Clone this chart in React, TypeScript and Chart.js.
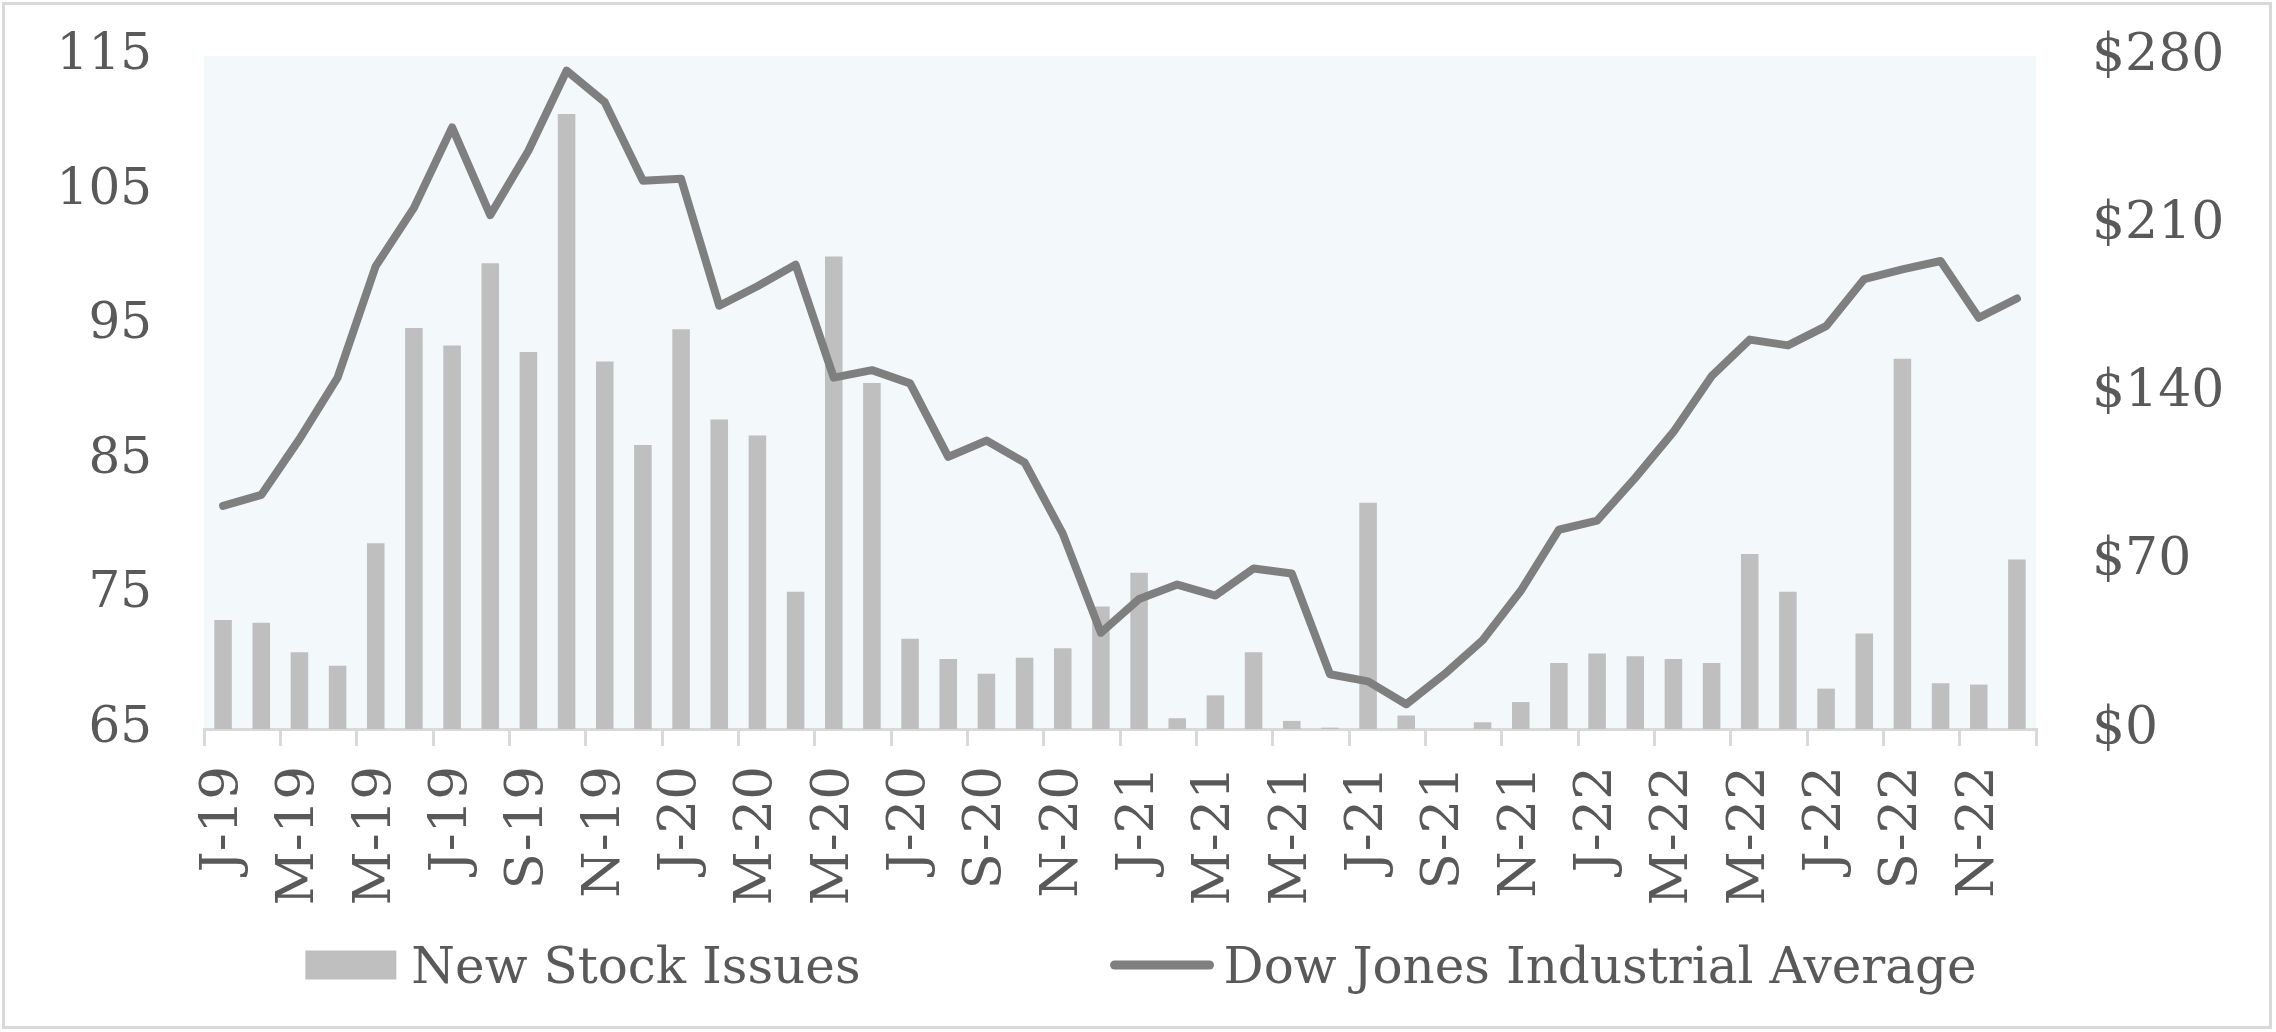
import { useEffect, useRef } from "react";
import { Chart, registerables } from "chart.js";

Chart.register(...registerables);

const months = [
  "J-19", "F-19", "M-19", "A-19", "M-19", "J-19", "J-19", "A-19", "S-19", "O-19", "N-19", "D-19",
  "J-20", "F-20", "M-20", "A-20", "M-20", "J-20", "J-20", "A-20", "S-20", "O-20", "N-20", "D-20",
  "J-21", "F-21", "M-21", "A-21", "M-21", "J-21", "J-21", "A-21", "S-21", "O-21", "N-21", "D-21",
  "J-22", "F-22", "M-22", "A-22", "M-22", "J-22", "J-22", "A-22", "S-22", "O-22", "N-22", "D-22",
];

// left axis
const newStockIssues = [
  73.1, 72.9, 70.7, 69.7, 78.8, 94.8, 93.5, 99.6, 93.0, 110.7, 92.3, 86.1,
  94.7, 88.0, 86.8, 75.2, 100.1, 90.7, 71.7, 70.2, 69.1, 70.3, 71.0, 74.1,
  76.6, 65.8, 67.5, 70.7, 65.6, 65.1, 81.8, 66.0, 65.0, 65.5, 67.0, 69.9,
  70.6, 70.4, 70.2, 69.9, 78.0, 75.2, 68.0, 72.1, 92.5, 68.4, 68.3, 77.6,
];

// right axis ($)
const dowJones = [
  92.8, 97.4, 120.6, 146.2, 192.6, 216.8, 250.3, 213.8, 240.6, 273.9, 260.8, 228.1,
  228.9, 176.1, 184.2, 193.2, 146.2, 149.3, 143.8, 113.2, 120.0, 110.9, 81.3, 40.0,
  54.1, 60.1, 55.5, 66.8, 64.7, 22.8, 19.8, 10.3, 22.8, 36.9, 57.5, 82.9,
  86.7, 104.5, 123.6, 146.8, 162.0, 159.6, 167.6, 187.2, 191.2, 194.7, 171.1, 179.1,
];

const leftTicks = [65, 75, 85, 95, 105, 115];
const rightTicks = [0, 70, 140, 210, 280];
const seriesNames = ["New Stock Issues", "Dow Jones Industrial Average"];

const FONT = "'DejaVu Serif', serif";
const TEXT = "#595959";
const BAR = "#bfbfbf";
const LINE = "#7f7f7f";
const RULE = "#d9d9d9";

const framePlugin = {
  id: "frame",
  beforeDraw(chart: any) {
    const { ctx, chartArea: a } = chart;
    ctx.save();
    ctx.fillStyle = "#ffffff";
    ctx.fillRect(0, 0, chart.width, chart.height);
    ctx.fillStyle = "#f3f8fb";
    ctx.fillRect(a.left, a.top, a.right - a.left, a.bottom - a.top);
    ctx.strokeStyle = RULE;
    ctx.lineWidth = 3;
    ctx.strokeRect(3.5, 3.5, chart.width - 9, chart.height - 8);
    ctx.restore();
  },
};

const legendPlugin = {
  id: "bottomLegend",
  afterDraw(chart: any) {
    const { ctx, chartArea } = chart;
    ctx.save();
    ctx.font = `50px ${FONT}`;
    ctx.fillStyle = TEXT;
    ctx.textBaseline = "alphabetic";
    const w1 = ctx.measureText(seriesNames[0]).width;
    const w2 = ctx.measureText(seriesNames[1]).width;
    const boxW = 91, boxH = 29, lineW = 103;
    const total = boxW + 15 + w1 + 250 + lineW + 10 + w2;
    let x = chart.width / 2 + 3 - total / 2;
    const cy = chartArea.bottom + 236;
    const base = cy + 18;

    ctx.fillStyle = BAR;
    ctx.fillRect(x, cy - boxH / 2, boxW, boxH);
    x += boxW + 15;
    ctx.fillStyle = TEXT;
    ctx.fillText(seriesNames[0], x, base);
    x += w1 + 250;

    ctx.strokeStyle = LINE;
    ctx.lineWidth = 9;
    ctx.lineCap = "round";
    ctx.beginPath();
    ctx.moveTo(x + 4, cy);
    ctx.lineTo(x + lineW - 4, cy);
    ctx.stroke();
    x += lineW + 10;
    ctx.fillText(seriesNames[1], x, base);
    ctx.restore();
  },
};

// pin the plot area: fixed axis sizes, no label overflow padding
const fixSize = (w: number | null, h: number | null) => (s: any) => {
  if (w !== null) s.width = w;
  if (h !== null) s.height = h;
  s.paddingTop = 0;
  s.paddingBottom = 0;
  s.paddingLeft = 0;
  s.paddingRight = 0;
};

export default function App() {
  const ref = useRef<HTMLCanvasElement>(null);
  useEffect(() => {
    const chart = new Chart(ref.current!, {
      type: "bar",
      data: {
        labels: months,
        datasets: [
          {
            type: "bar",
            label: seriesNames[0],
            data: newStockIssues,
            yAxisID: "y",
            backgroundColor: BAR,
            categoryPercentage: 1,
            barPercentage: 0.46,
            base: leftTicks[0],
            order: 2,
          } as any,
          {
            type: "line",
            label: seriesNames[1],
            data: dowJones,
            yAxisID: "y1",
            borderColor: LINE,
            borderWidth: 8,
            borderJoinStyle: "round",
            borderCapStyle: "round",
            pointRadius: 0,
            tension: 0,
            order: 1,
          },
        ],
      },
      options: {
        animation: false,
        responsive: true,
        maintainAspectRatio: false,
        layout: { padding: { top: 56, left: 0, right: 0, bottom: 0 } },
        plugins: { legend: { display: false }, tooltip: { enabled: false } },
        scales: {
          x: {
            offset: true,
            grid: {
              offset: true,
              drawOnChartArea: false,
              drawTicks: true,
              tickLength: 17,
              lineWidth: 3,
              color: (c: any) => (c.index === undefined || c.index % 2 === 0 ? RULE : "rgba(0,0,0,0)"),
              tickColor: (c: any) => (c.index === undefined || c.index % 2 === 0 ? RULE : "rgba(0,0,0,0)"),
            },
            border: { display: true, color: RULE, width: 3 },
            ticks: {
              autoSkip: false,
              minRotation: 90,
              maxRotation: 90,
              padding: 20,
              color: TEXT,
              font: { family: FONT, size: 53 },
              callback: (_v: any, i: number) => (i % 2 === 0 ? months[i] : ""),
            },
            afterFit: fixSize(null, 303),
          },
          y: {
            position: "left",
            min: leftTicks[0],
            max: leftTicks[leftTicks.length - 1],
            grid: { display: false },
            border: { display: false },
            ticks: { padding: 44, color: TEXT, font: { family: FONT, size: 50 } },
            afterBuildTicks: (s: any) => {
              s.ticks = leftTicks.map((v) => ({ value: v }));
            },
            afterFit: fixSize(204, null),
          },
          y1: {
            position: "right",
            min: rightTicks[0],
            max: rightTicks[rightTicks.length - 1],
            grid: { display: false },
            border: { display: false },
            ticks: {
              padding: 48,
              color: TEXT,
              font: { family: FONT, size: 52 },
              callback: (v: any) => "$" + v,
            },
            afterBuildTicks: (s: any) => {
              s.ticks = rightTicks.map((v) => ({ value: v }));
            },
            afterFit: fixSize(240, null),
          },
        },
      },
      plugins: [framePlugin, legendPlugin],
    });
    return () => chart.destroy();
  }, []);
  return (
    <div style={{ position: "absolute", left: 0, top: 0, width: 2276, height: 1032 }}>
      <canvas ref={ref} />
    </div>
  );
}
